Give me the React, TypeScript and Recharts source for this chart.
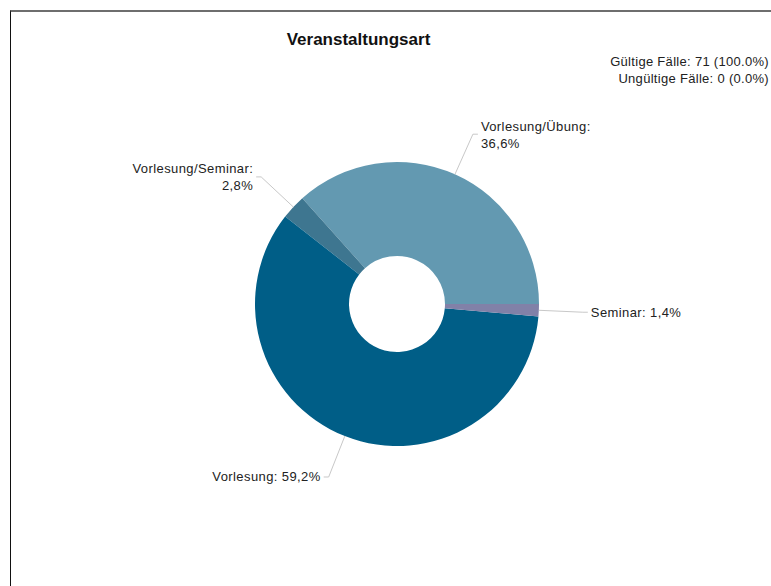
import { PieChart, Pie, Cell } from 'recharts'

const categories = ['Vorlesung/Übung', 'Vorlesung/Seminar', 'Vorlesung', 'Seminar']
const counts = [26, 2, 42, 1]
const invalidCount = 0

const palette = ['#6399b1', '#3e7690', '#005e87', '#8181a8']

const total = counts.reduce((a, b) => a + b, 0)
const data = categories.map((name, i) => ({ name, value: counts[i] }))

const font = '"Liberation Sans", Arial, sans-serif'
const RAD = Math.PI / 180

function fmt(p: number) {
  return (p * 100).toFixed(1).replace('.', ',') + '%'
}

function SliceLabel(props: any) {
  const { cx, cy, midAngle, outerRadius, name, percent } = props
  const cos = Math.cos(-midAngle * RAD)
  const sin = Math.sin(-midAngle * RAD)
  const sx = cx + outerRadius * cos
  const sy = cy + outerRadius * sin
  const mx = cx + (outerRadius + 44) * cos
  const my = cy + (outerRadius + 44) * sin
  const right = cos >= 0
  const ex = mx + (right ? 5 : -5)
  const tx = ex + (right ? 3 : -3)
  const wrap = name.includes('/')
  return (
    <g>
      <polyline
        points={`${sx},${sy} ${mx},${my} ${ex},${my}`}
        fill="none"
        stroke="#c8c8c8"
        strokeWidth={1}
      />
      <text
        x={tx}
        y={my}
        textAnchor={right ? 'start' : 'end'}
        fontFamily={font}
        fontSize={13}
        letterSpacing={0.4}
        fill="#222"
      >
        {wrap ? (
          <>
            <tspan x={tx} dy={-3.5}>{name}:</tspan>
            <tspan x={tx} dy={17}>{fmt(percent)}</tspan>
          </>
        ) : (
          <tspan x={tx} dy={4.5}>{`${name}: ${fmt(percent)}`}</tspan>
        )}
      </text>
    </g>
  )
}

export default function App() {
  return (
    <div style={{ position: 'relative', width: 771, height: 586, overflow: 'hidden', fontFamily: font }}>
      <style>{'html,body{margin:0;padding:0;overflow:hidden}'}</style>
      <div
        style={{
          position: 'absolute',
          left: 10,
          top: 10,
          width: 900,
          height: 700,
          borderTop: '2px solid #6e6e6e',
          borderLeft: '1px solid #111',
        }}
      />
      <div
        style={{
          position: 'absolute',
          left: 8,
          width: 701,
          top: 30,
          textAlign: 'center',
          fontWeight: 'bold',
          fontSize: 17,
          color: '#111',
        }}
      >
        Veranstaltungsart
      </div>
      <div
        style={{
          position: 'absolute',
          right: 2,
          top: 53,
          textAlign: 'right',
          fontSize: 13,
          letterSpacing: 0.3,
          lineHeight: '17px',
          color: '#222',
        }}
      >
        <div>Gültige Fälle: {total} (100.0%)</div>
        <div>Ungültige Fälle: {invalidCount} (0.0%)</div>
      </div>
      <div style={{ position: 'absolute', left: 8, top: 8 }}>
        <PieChart width={763} height={578}>
          <Pie
            data={data}
            dataKey="value"
            nameKey="name"
            cx={384}
            cy={291}
            innerRadius={48}
            outerRadius={142}
            startAngle={0}
            endAngle={360}
            stroke="none"
            label={SliceLabel}
            labelLine={false}
            isAnimationActive={false}
          >
            {data.map((d, i) => (
              <Cell key={d.name} fill={palette[i]} />
            ))}
          </Pie>
        </PieChart>
      </div>
    </div>
  )
}
